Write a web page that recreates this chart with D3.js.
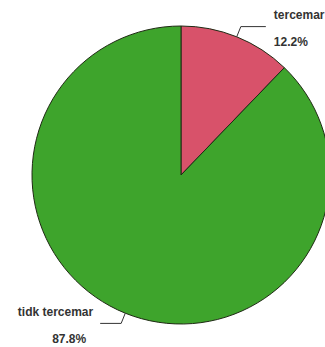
<!DOCTYPE html>
<html>
<head>
<meta charset="utf-8">
<script src="https://cdn.jsdelivr.net/npm/d3@7"></script>
<style>
  body { margin: 0; background: #fff; }
  text { font-family: "Liberation Sans", Arial, sans-serif; font-weight: bold; font-size: 12px; fill: #333; }
</style>
</head>
<body>
<svg width="325" height="347"></svg>
<script>
// data
var labels = ["tercemar", "tidk tercemar"];
var values = [12.2, 87.8];
var colors = ["#d8526a", "#3ea42c"];

var svg = d3.select("svg"),
	cx = 181,
	cy = 175,
	radius = 149;

var g = svg.append("g")
	.attr("transform", "translate(" + cx + "," + cy + ")");

var pie = d3.pie().sort(null).value(d => d);
var arcs = pie(values);

var arc = d3.arc().innerRadius(0).outerRadius(radius);

// slices
g.selectAll(".slice")
	.data(arcs)
	.enter().append("path")
	.attr("class", "slice")
	.attr("d", arc)
	.attr("fill", (d, i) => colors[i])
	.attr("stroke", "#1f2a14")
	.attr("stroke-width", 1);

// leader lines and labels
var inner = d3.arc().innerRadius(radius).outerRadius(radius);
var outer = d3.arc().innerRadius(radius + 11).outerRadius(radius + 11);

arcs.forEach(function(d, i) {
	var mid = (d.startAngle + d.endAngle) / 2;
	var p0 = inner.centroid({startAngle: mid, endAngle: mid});
	var p1 = outer.centroid({startAngle: mid, endAngle: mid});
	var right = Math.sin(mid) > 0;
	var len = right ? 25 : 21;
	var p2 = [p1[0] + (right ? len : -len), p1[1]];

	g.append("polyline")
		.attr("points", [p0, p1, p2].map(p => p.join(",")).join(" "))
		.attr("fill", "none")
		.attr("stroke", "#333")
		.attr("stroke-width", 1);

	if (right) {
		g.append("text")
			.attr("x", p2[0] + 8)
			.attr("y", p2[1] - 8)
			.text(labels[i]);
		g.append("text")
			.attr("x", p2[0] + 8)
			.attr("y", p2[1] + 19)
			.text(values[i].toFixed(1) + "%");
	} else {
		g.append("text")
			.attr("x", p2[0] - 7)
			.attr("y", p2[1] - 7)
			.attr("text-anchor", "end")
			.text(labels[i]);
		g.append("text")
			.attr("x", p2[0] - 31)
			.attr("y", p2[1] + 20)
			.attr("text-anchor", "middle")
			.text(values[i].toFixed(1) + "%");
	}
});
</script>
</body>
</html>
